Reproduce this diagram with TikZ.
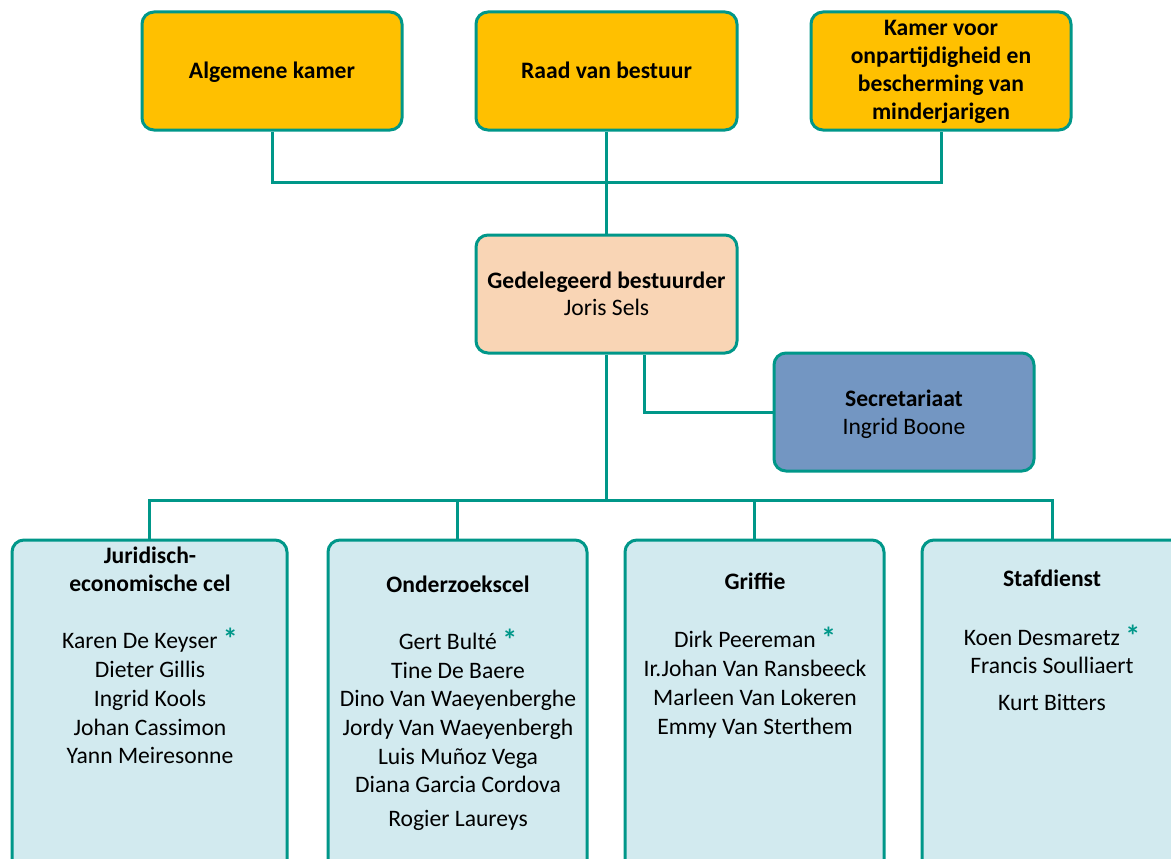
\documentclass[tikz,border=0pt]{standalone}
\usepackage{fontspec}
\setmainfont{Carlito}
\definecolor{tealc}{RGB}{0,151,137}
\definecolor{goldc}{RGB}{255,192,0}
\definecolor{peachc}{RGB}{249,213,181}
\definecolor{secblue}{RGB}{115,150,194}
\definecolor{lightc}{RGB}{210,234,239}
\newcommand{\leadmark}{ \smash{\textcolor{tealc}{\fontsize{30}{30}\selectfont\bfseries\raisebox{-1pt}{*}}}}
\tikzset{
  box/.style={rectangle, rounded corners=12pt, draw=tealc, line width=3pt, inner sep=0pt},
  topbox/.style={box, fill=goldc, minimum width=260pt, minimum height=118pt},
  unitbox/.style={box, fill=lightc, minimum height=340pt},
  conn/.style={draw=tealc, line width=3pt},
  txt/.style={inner sep=0pt, font=\fontsize{23.6}{28}\selectfont, align=center, text height=19pt, text depth=3pt},
  btxt/.style={inner sep=0pt, align=center, font=\fontsize{23.6}{28}\selectfont\bfseries},
  bline/.style={btxt, text height=19pt, text depth=3pt},
}
\begin{document}
\begin{tikzpicture}[x=1pt,y=-1pt]
\useasboundingbox (0,0) rectangle (1171,859);
\clip (0,0) rectangle (1171,859);
% boxes
\node[topbox] (ak) at (272,71) {};
\node[topbox, minimum width=261pt] (rvb) at (606.5,71) {};
\node[topbox] (kvo) at (941,71) {};
\node[box, fill=peachc, minimum width=261pt, minimum height=118pt] (gb) at (606.5,294) {};
\node[box, fill=secblue, minimum width=260pt, minimum height=118pt] (sec) at (904,412) {};
\node[unitbox, minimum width=275pt] (jec) at (149.5,710) {};
\node[unitbox, minimum width=259pt] (ond) at (457.5,710) {};
\node[unitbox, minimum width=259pt] (gri) at (754.5,710) {};
\node[unitbox, minimum width=260pt] (staf) at (1052,710) {};
% connectors
\coordinate (topbus) at (606.5,182);
\coordinate (bus) at (606.5,500);
\draw[conn] (ak.south) |- (topbus) -| (kvo.south);
\draw[conn] (rvb.south) -- (gb.north);
\draw[conn] ([xshift=37.5pt]gb.south) |- (sec.west);
\draw[conn] (gb.south) -- (bus);
\draw[conn] (jec.north) |- (bus) -| (staf.north);
\draw[conn] (ond.north) |- (bus);
\draw[conn] (gri.north) |- (bus);
% top texts
\node[bline] (tak) at (272,71) {Algemene kamer};
\node[bline] (trvb) at (606.5,71) {Raad van bestuur};
\node[btxt] (tkvo) at (941,72) {Kamer voor\\onpartijdigheid en\\bescherming van\\minderjarigen};
\node[bline] (tgb) at (606.5,280) {Gedelegeerd bestuurder};
\node[txt] (ngb) at (606.5,307) {Joris Sels};
\node[bline] (tsec) at (904,398) {Secretariaat};
\node[txt] (nsec) at (904,426) {Ingrid Boone};
% unit titles
\node[btxt] (tjec) at (150,569.5) {Juridisch-\\economische cel};
\node[bline] (tond) at (458,584) {Onderzoekscel};
\node[bline] (tgri) at (755,581) {Griffie};
\node[bline] (tstaf) at (1052,578) {Stafdienst};
% names
\foreach \t/\y [count=\i] in {{Karen De Keyser\leadmark}/640, Dieter Gillis/669, Ingrid Kools/698, Johan Cassimon/727, Yann Meiresonne/755}
  \node[txt] (j\i) at (150,\y) {\t};
\foreach \t/\y [count=\i] in {{Gert Bulté\leadmark}/641, Tine De Baere/670, Dino Van Waeyenberghe/698, Jordy Van Waeyenbergh/727, Luis Muñoz Vega/756, Diana Garcia Cordova/784, Rogier Laureys/818}
  \node[txt] (o\i) at (458,\y) {\t};
\foreach \t/\y [count=\i] in {{Dirk Peereman\leadmark}/639, Ir.Johan Van Ransbeeck/668, Marleen Van Lokeren/697, Emmy Van Sterthem/726}
  \node[txt] (g\i) at (755,\y) {\t};
\foreach \t/\y [count=\i] in {{Koen Desmaretz\leadmark}/637, Francis Soulliaert/665, Kurt Bitters/702}
  \node[txt] (s\i) at (1052,\y) {\t};
\end{tikzpicture}
\end{document}
